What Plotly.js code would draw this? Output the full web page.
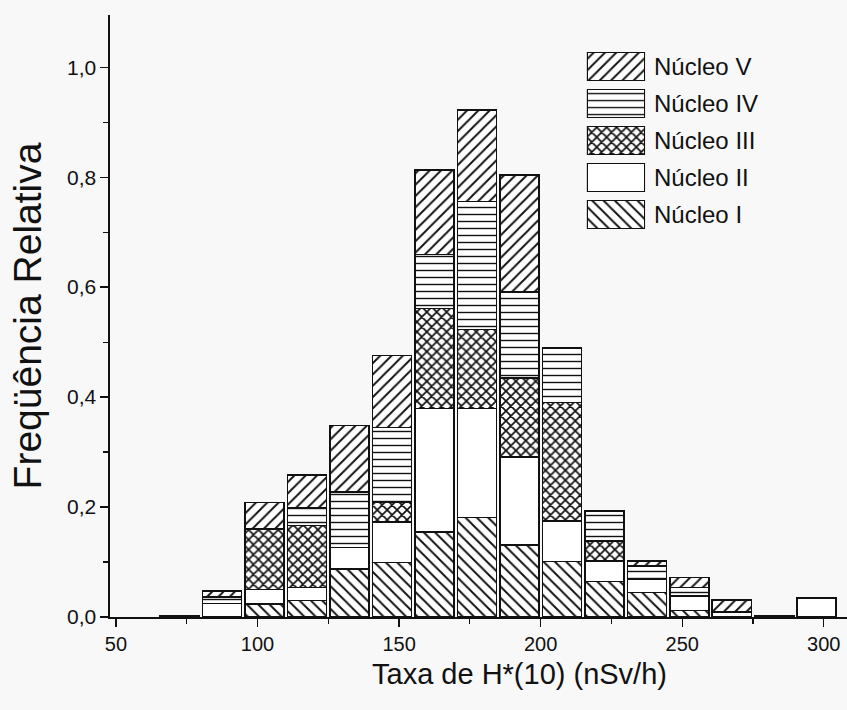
<!DOCTYPE html>
<html>
<head>
<meta charset="utf-8">
<script src="https://cdn.plot.ly/plotly-3.0.1.min.js"></script>
<style>
  html, body { margin: 0; padding: 0; background: #f8f8f8; }
  #chart { width: 847px; height: 710px; }
</style>
</head>
<body>
<div id="chart"></div>
<script>
// Class centres of the dose-rate histogram (bins 15 nSv/h wide)
const binCenters = [72.5, 87.5, 102.5, 117.5, 132.5, 147.5, 162.5, 177.5,
                    192.5, 207.5, 222.5, 237.5, 252.5, 267.5, 282.5, 297.5];

// Relative frequency contributed by each nucleus in each class
const nucleoI   = [0, 0,     0.024, 0.030, 0.087, 0.099, 0.155, 0.181,
                   0.131, 0.101, 0.065, 0.045, 0.012, 0,     0,     0];
const nucleoII  = [0, 0.025, 0.026, 0.024, 0.039, 0.074, 0.224, 0.198,
                   0.160, 0.074, 0.037, 0.024, 0.026, 0.009, 0,     0.035];
const nucleoIII = [0, 0,     0.110, 0.112, 0,     0.036, 0.182, 0.144,
                   0.144, 0.215, 0.036, 0,     0,     0,     0,     0];
const nucleoIV  = [0, 0.011, 0,     0.033, 0.101, 0.136, 0.098, 0.233,
                   0.156, 0.099, 0.055, 0.024, 0.016, 0,     0,     0];
const nucleoV   = [0.003, 0.011, 0.048, 0.059, 0.121, 0.131, 0.154, 0.166,
                   0.213, 0,     0,     0.009, 0.018, 0.022, 0.003, 0];

const seriesNames  = ['Núcleo I', 'Núcleo II', 'Núcleo III', 'Núcleo IV', 'Núcleo V'];
const seriesValues = [nucleoI, nucleoII, nucleoIII, nucleoIV, nucleoV];
const hatchShapes  = ['\\', '', 'x', '-', '/'];
const hatchSizes   = [8, 8, 7, 7, 8];
const hatchSolid   = [0.24, 0.2, 0.42, 0.2, 0.24];

const xTitle = 'Taxa de H*(10) (nSv/h)';
const yTitle = 'Freqüência Relativa';

const FONT = '"Liberation Sans", Arial, Helvetica, sans-serif';
const INK = '#111111';

// Stacked bars, one trace per nucleus
const traces = seriesNames.map((name, i) => ({
  type: 'bar',
  name: name,
  x: binCenters,
  y: seriesValues[i],
  width: 13.8,
  marker: {
    color: 'white',
    line: { color: INK, width: 1.5 },
    pattern: {
      shape: hatchShapes[i],
      fgcolor: INK,
      bgcolor: 'white',
      size: hatchSizes[i],
      solidity: hatchSolid[i]
    }
  },
  showlegend: false,
  hoverinfo: 'x+y+name'
}));

// Key: one large patterned swatch per nucleus on its own small axis pair
traces.push({
  type: 'bar',
  orientation: 'h',
  xaxis: 'x2',
  yaxis: 'y2',
  y: seriesNames,
  x: seriesNames.map(() => 1),
  width: 0.76,
  marker: {
    color: 'white',
    line: { color: INK, width: 1.5 },
    pattern: {
      shape: hatchShapes,
      fgcolor: INK,
      bgcolor: 'white',
      size: hatchSizes,
      solidity: hatchSolid
    }
  },
  showlegend: false,
  hoverinfo: 'skip'
});

const keyLabels = seriesNames.map(name => ({
  text: name,
  xref: 'paper',
  yref: 'y2',
  x: 0.736,
  y: name,
  xanchor: 'left',
  yanchor: 'middle',
  showarrow: false,
  font: { family: FONT, size: 24, color: INK }
}));

// x-axis title sits right of the plot centre
keyLabels.push({
  text: xTitle,
  xref: 'paper',
  yref: 'paper',
  x: 0.556,
  y: -0.095,
  xanchor: 'center',
  yanchor: 'middle',
  showarrow: false,
  font: { family: FONT, size: 29, color: INK }
});

const layout = {
  width: 847,
  height: 710,
  margin: { l: 110, r: 0, t: 15, b: 93 },
  paper_bgcolor: '#f8f8f8',
  plot_bgcolor: '#f8f8f8',
  separators: ',.',
  barmode: 'stack',
  font: { family: FONT, color: INK },
  showlegend: false,
  xaxis: {
    range: [47.9, 308.2],
    tick0: 50,
    dtick: 50,
    ticks: 'outside',
    ticklen: 8,
    tickwidth: 1.3,
    tickcolor: INK,
    minor: { dtick: 25, ticks: 'outside', ticklen: 5, tickwidth: 1.2, tickcolor: INK },
    showline: true,
    linecolor: INK,
    linewidth: 1.6,
    showgrid: false,
    zeroline: false,
    tickfont: { family: FONT, size: 20, color: INK }
  },
  yaxis: {
    range: [0, 1.095],
    tick0: 0,
    dtick: 0.2,
    tickformat: '.1f',
    ticks: 'outside',
    ticklen: 8,
    tickwidth: 1.3,
    tickcolor: INK,
    minor: { dtick: 0.1, ticks: 'outside', ticklen: 5, tickwidth: 1.2, tickcolor: INK },
    showline: true,
    linecolor: INK,
    linewidth: 1.6,
    showgrid: false,
    zeroline: false,
    tickfont: { family: FONT, size: 21, color: INK },
    title: { text: yTitle, font: { family: FONT, size: 39, color: INK }, standoff: 13 }
  },
  xaxis2: {
    domain: [0.647, 0.726],
    range: [0, 1],
    anchor: 'y2',
    visible: false,
    fixedrange: true
  },
  yaxis2: {
    domain: [0.638, 0.945],
    type: 'category',
    categoryorder: 'array',
    categoryarray: seriesNames,
    anchor: 'x2',
    visible: false,
    fixedrange: true
  },
  annotations: keyLabels
};

Plotly.newPlot('chart', traces, layout, { displayModeBar: false, staticPlot: true });
</script>
</body>
</html>
